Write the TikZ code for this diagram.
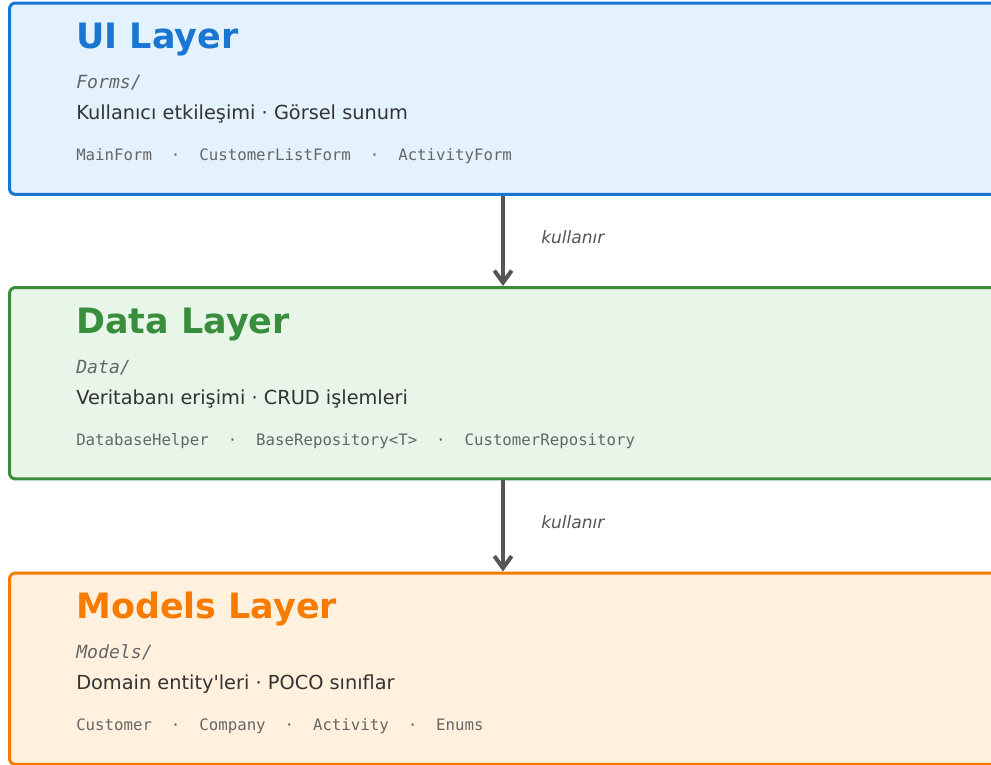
\documentclass[tikz,border=0pt]{standalone}
\usepackage{fontspec}
\setmainfont{DejaVu Sans}[Ligatures=TeXOff]
\newfontfamily\codefont{DejaVu Sans Mono}[Ligatures=TeXOff]
\usetikzlibrary{positioning,calc,arrows.meta}
\definecolor{UIBlue}{HTML}{1976D2}
\definecolor{UIFill}{HTML}{E3F2FD}
\definecolor{DataGreen}{HTML}{388E3C}
\definecolor{DataFill}{HTML}{E8F5E9}
\definecolor{ModelOrange}{HTML}{F57C00}
\definecolor{ModelFill}{HTML}{FFF1DE}
\definecolor{BodyGray}{HTML}{333333}
\definecolor{CodeGray}{HTML}{666666}
\definecolor{ArrowGray}{HTML}{555555}

\begin{document}
\begin{tikzpicture}[
        x=0.75pt, y=-0.75pt,
        % --- HOP CAC TANG ---
        layerbox/.style={
            rectangle, rounded corners=4.5pt, line width=2.25pt,
            minimum width=751.5pt, minimum height=143.6pt,
            anchor=north west, inner sep=0pt
        },
        % --- CHU TRONG HOP ---
        layertitle/.style={anchor=base west, inner sep=0pt, font=\bfseries\fontsize{26.2}{31}\selectfont},
        folder/.style={anchor=base west, inner sep=0pt, text=CodeGray, font=\codefont\itshape\fontsize{13.6}{16}\selectfont},
        duty/.style={anchor=base west, inner sep=0pt, text=BodyGray, font=\fontsize{14.5}{17}\selectfont},
        classes/.style={anchor=base west, inner sep=0pt, text=CodeGray, font=\codefont\fontsize{11.8}{14}\selectfont},
        % --- MUI TEN ---
        uses/.style={draw=ArrowGray, line width=3pt, -{Straight Barb[length=9pt, width=13pt]}},
        useslabel/.style={anchor=base west, inner sep=0pt, text=ArrowGray, font=\itshape\fontsize{12.8}{15}\selectfont}
    ]
    \useasboundingbox (0,0) rectangle (991,764);
    \clip (0,0) rectangle (991,764);

    % --- TANG 1: UI ---
    \node[layerbox, draw=UIBlue, fill=UIFill] (ui) at (8,1.5) {};
    \node[layertitle, text=UIBlue] (uiTitle) at ($(ui.north west)+(68,47)$) {UI Layer};
    \node[folder] (uiFolder) at ($(ui.north west)+(68,87)$) {Forms/};
    \node[duty] (uiDuty) at ($(ui.north west)+(68,118)$) {Kullanıcı etkileşimi · Görsel sunum};
    \node[classes] (uiClasses) at ($(ui.north west)+(68,159)$) {MainForm\ \ ·\ \ CustomerListForm\ \ ·\ \ ActivityForm};

    % --- TANG 2: Data ---
    \node[layerbox, draw=DataGreen, fill=DataFill] (data) at (8,286) {};
    \node[layertitle, text=DataGreen] (dataTitle) at ($(data.north west)+(68,47)$) {Data Layer};
    \node[folder] (dataFolder) at ($(data.north west)+(68,87)$) {Data/};
    \node[duty] (dataDuty) at ($(data.north west)+(68,118)$) {Veritabanı erişimi · CRUD işlemleri};
    \node[classes] (dataClasses) at ($(data.north west)+(68,159)$) {DatabaseHelper\ \ ·\ \ BaseRepository<T>\ \ ·\ \ CustomerRepository};

    % --- TANG 3: Models ---
    \node[layerbox, draw=ModelOrange, fill=ModelFill] (models) at (8,571.5) {};
    \node[layertitle, text=ModelOrange] (modelsTitle) at ($(models.north west)+(68,47)$) {Models Layer};
    \node[folder] (modelsFolder) at ($(models.north west)+(68,87)$) {Models/};
    \node[duty] (modelsDuty) at ($(models.north west)+(68,118)$) {Domain entity'leri · POCO sınıflar};
    \node[classes] (modelsClasses) at ($(models.north west)+(68,159)$) {Customer\ \ ·\ \ Company\ \ ·\ \ Activity\ \ ·\ \ Enums};

    % --- KET NOI ---
    \draw[uses] ($(ui.south west)+(495,0)$) -- ($(data.north west)+(495,0)$);
    \node[useslabel] (uses1) at ($(ui.south west)+(533,48)$) {kullanır};
    \draw[uses] ($(data.south west)+(495,0)$) -- ($(models.north west)+(495,0)$);
    \node[useslabel] (uses2) at ($(data.south west)+(533,48)$) {kullanır};

\end{tikzpicture}
\end{document}
